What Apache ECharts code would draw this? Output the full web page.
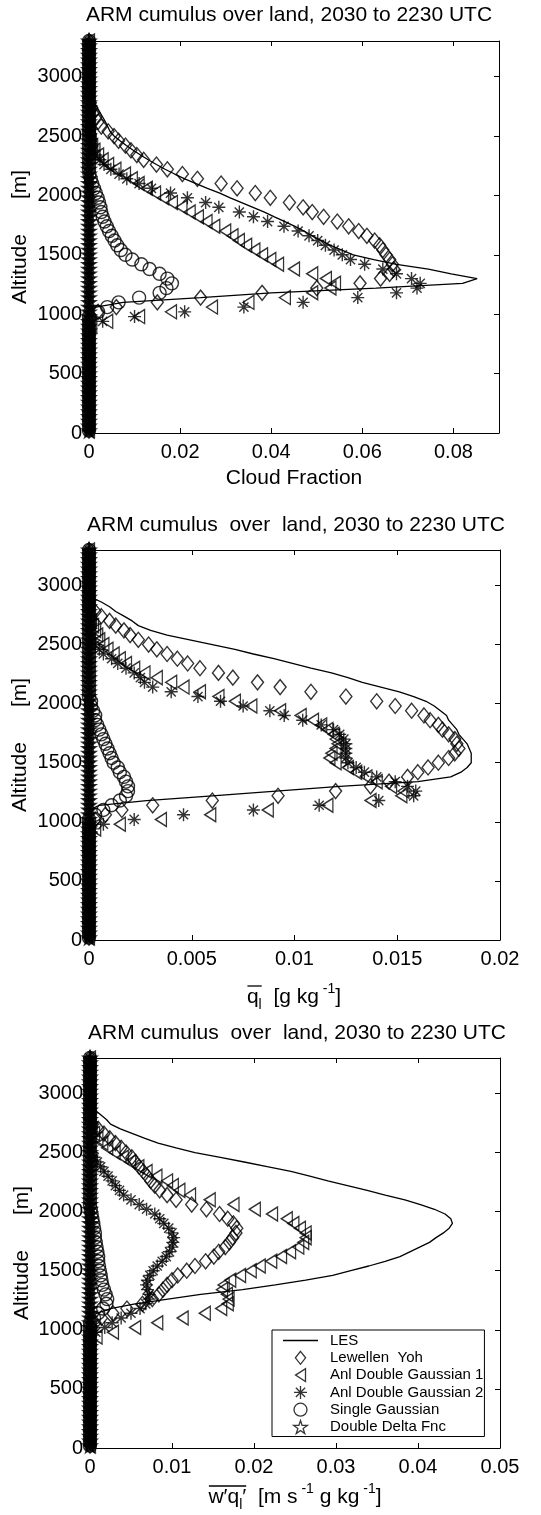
<!DOCTYPE html>
<html><head><meta charset="utf-8">
<script src="https://cdn.jsdelivr.net/npm/echarts@6/dist/echarts.min.js"></script>
<style>html,body{margin:0;padding:0;background:#fff}#c{width:541px;height:1515px}</style>
</head><body><div id="c"></div>
<script>
// ---- shared altitude levels [m] ----
const altitude = [
 20,60,100,140,180,220,260,300,340,380,
 420,460,500,540,580,620,660,700,740,780,
 820,860,900,940,980,1020,1060,1100,1140,1180,
 1220,1260,1300,1340,1380,1420,1460,1500,1540,1580,
 1620,1660,1700,1740,1780,1820,1860,1900,1940,1980,
 2020,2060,2100,2140,2180,2220,2260,2300,2340,2380,
 2420,2460,2500,2540,2580,2620,2660,2700,2740,2780,
 2820,2860,2900,2940,2980,3020,3060,3100,3140,3180,
 3220,3260,3300];

// ---- panel 1: cloud fraction ----
const cfLES = [
 0,0,0,0,0,0,0,0,0,0, 0,0,0,0,0,0,0,0,0,0,
 0,0,0,0,0,0,0.0015,0.0075,0.0245,0.040,
 0.063,0.082,0.0852,0.0795,0.0745,0.0675,0.0625,0.058,0.0555,0.053,
 0.051,0.049,0.0472,0.0452,0.043,0.0407,0.0385,0.036,0.0335,0.031,
 0.0287,0.026,0.0235,0.021,0.0188,0.0167,0.0148,0.013,0.0113,0.0097,
 0.0082,0.0068,0.0055,0.0046,0.0041,0.0036,0.003,0.0024,0.0018,0.0012,
 0.0005,0,0,0,0,0,0,0,0,0, 0,0,0];
const cfLY = [
 0,0,0,0,0,0,0,0,0,0, 0,0,0,0,0,0,0,0,0,0,
 0,0,0,0,0.0005,0.002,0.006,0.015,0.0245,0.038,
 0.05,0.0595,0.064,0.066,0.0669,0.0666,0.066,0.0652,0.0645,0.0638,
 0.0627,0.061,0.0592,0.057,0.0545,0.0515,0.049,0.047,0.044,0.0398,
 0.0365,0.0325,0.029,0.0238,0.0205,0.0172,0.0148,0.012,0.0105,0.0092,
 0.008,0.0065,0.0055,0.0042,0.0027,0.002,0.0015,0.001,0.0006,0.0003,
 0,0,0,0,0,0,0,0,0,0, 0,0,0];
const cfDG1 = [
 0,0,0,0,0,0,0,0,0,0, 0,0,0,0,0,0,0,0,0,0,
 0,0,0.0005,0.004,0.011,0.018,0.027,0.035,0.043,0.049,
 0.053,0.054,0.052,0.049,0.045,0.0415,0.0398,0.038,0.0363,0.0345,
 0.0329,0.0315,0.0299,0.0275,0.0258,0.0239,0.0221,0.0203,0.0182,0.0163,
 0.0145,0.0127,0.0109,0.0094,0.0079,0.0058,0.0042,0.003,0.002,0.0012,
 0.0007,0.0004,0.0002,0,0,0,0,0,0,0,
 0,0,0,0,0,0,0,0,0,0, 0,0,0];
const cfDG2 = [
 0,0,0,0,0,0,0,0,0,0, 0,0,0,0,0,0,0,0,0,0,
 0,0,0,0.003,0.01,0.021,0.034,0.047,0.059,0.0675,
 0.072,0.0727,0.0708,0.0675,0.0645,0.0605,0.0574,0.0556,0.0538,0.0519,
 0.0502,0.0483,0.0459,0.0428,0.0392,0.0361,0.033,0.0285,0.0256,0.0216,
 0.0179,0.0137,0.011,0.0083,0.0066,0.0048,0.0033,0.0024,0.0015,0.001,
 0.0006,0.0003,0,0,0,0,0,0,0,0,
 0,0,0,0,0,0,0,0,0,0, 0,0,0];
const cfSG = [
 0,0,0,0,0,0,0,0,0,0, 0,0,0,0,0,0,0,0,0,0,
 0,0,0,0,0,0.002,0.004,0.0065,0.011,0.0155,
 0.017,0.0182,0.0172,0.0155,0.0133,0.0115,0.0095,0.008,0.007,0.0062,
 0.0056,0.005,0.0044,0.0039,0.0034,0.003,0.0027,0.0025,0.0022,0.0019,
 0.0015,0.0011,0.0007,0.0004,0.0001,0,0,0,0,0,
 0,0,0,0,0,0,0,0,0,0,
 0,0,0,0,0,0,0,0,0,0, 0,0,0];
const cfDD = [
 0,0,0,0,0,0,0,0,0,0, 0,0,0,0,0,0,0,0,0,0,
 0,0,0,0,0,0,0,0,0,0, 0,0,0,0,0,0,0,0,0,0,
 0,0,0,0,0,0,0,0,0,0, 0,0,0,0,0,0,0,0,0,0,
 0,0,0,0,0,0,0,0,0,0, 0,0,0,0,0,0,0,0,0,0, 0,0,0];

// ---- panel 2: liquid water q_l [g/kg] ----
const qlLES = [
 0,0,0,0,0,0,0,0,0,0, 0,0,0,0,0,0,0,0,0,0,
 0,0,0,0,0,0,0,0,0.0005,0.0028,
 0.006,0.0091,0.0122,0.016,0.0176,0.0181,0.0184,0.0186,0.0186,0.0186,
 0.0185,0.0184,0.0182,0.018,0.0179,0.0177,0.0175,0.0174,0.0171,0.0168,
 0.0164,0.0158,0.0151,0.0142,0.0133,0.0126,0.0118,0.0108,0.0099,0.009,
 0.008,0.0071,0.006,0.0049,0.0038,0.003,0.0024,0.0021,0.0017,0.0013,
 0.001,0.0006,0.0001,0,0,0,0,0,0,0, 0,0,0];
const qlLY = [
 0,0,0,0,0,0,0,0,0,0, 0,0,0,0,0,0,0,0,0,0,
 0,0,0,0,0,0.0003,0.0008,0.0016,0.0031,0.006,
 0.0092,0.012,0.0137,0.0146,0.0155,0.016,0.0165,0.017,0.0175,0.0178,
 0.018,0.0179,0.0178,0.0175,0.0172,0.017,0.0166,0.0163,0.0157,0.0149,
 0.014,0.0125,0.0108,0.0093,0.0082,0.007,0.0063,0.0054,0.0048,0.0043,
 0.0038,0.0033,0.0029,0.0024,0.002,0.0017,0.0013,0.001,0.0006,0.0003,
 0,0,0,0,0,0,0,0,0,0, 0,0,0];
const qlDG1 = [
 0,0,0,0,0,0,0,0,0,0, 0,0,0,0,0,0,0,0,0,0,
 0,0,0,0.0003,0.0015,0.0035,0.0059,0.0087,0.0116,0.0137,
 0.0152,0.0153,0.0147,0.014,0.0135,0.013,0.0126,0.012,0.0117,0.0118,
 0.012,0.0121,0.012,0.0119,0.0116,0.0113,0.0109,0.0103,0.0093,0.0079,
 0.0071,0.0063,0.0054,0.0046,0.004,0.0033,0.0027,0.0022,0.0018,0.0015,
 0.0012,0.0009,0.0007,0.0005,0.0004,0.0003,0.0002,0.0001,0,0,
 0,0,0,0,0,0,0,0,0,0, 0,0,0];
const qlDG2 = [
 0,0,0,0,0,0,0,0,0,0, 0,0,0,0,0,0,0,0,0,0,
 0,0,0,0.0002,0.0007,0.0022,0.0046,0.008,0.0112,0.0141,
 0.0158,0.0159,0.0155,0.0149,0.014,0.0134,0.013,0.0126,0.0125,0.0125,
 0.0125,0.0125,0.0124,0.0122,0.0119,0.0113,0.0104,0.0095,0.0088,0.0075,
 0.0064,0.0053,0.004,0.0031,0.0027,0.0025,0.0022,0.0018,0.0014,0.0011,
 0.0007,0.0005,0.0003,0.0001,0,0,0,0,0,0,
 0,0,0,0,0,0,0,0,0,0, 0,0,0];
const qlSG = [
 0,0,0,0,0,0,0,0,0,0, 0,0,0,0,0,0,0,0,0,0,
 0,0,0,0,0,0,0.0003,0.0007,0.0011,0.0015,
 0.0018,0.0019,0.0019,0.0018,0.0017,0.0015,0.0014,0.0012,0.0011,0.001,
 0.0009,0.0008,0.0007,0.0006,0.0005,0.0004,0.0003,0.0003,0.0002,0.0001,
 0.0001,0,0,0,0,0,0,0,0,0,
 0,0,0,0,0,0,0,0,0,0,
 0,0,0,0,0,0,0,0,0,0, 0,0,0];
const qlDD = [
 0,0,0,0,0,0,0,0,0,0, 0,0,0,0,0,0,0,0,0,0,
 0,0,0,0,0,0,0,0,0,0, 0,0,0,0,0,0,0,0,0,0,
 0,0,0,0,0,0,0,0,0,0, 0,0,0,0,0,0,0,0,0,0,
 0,0,0,0,0,0,0,0,0,0, 0,0,0,0,0,0,0,0,0,0, 0,0,0];

// ---- panel 3: liquid water flux w'q_l' ----
const wqLES = [
 0,0,0,0,0,0,0,0,0,0, 0,0,0,0,0,0,0,0,0,0,
 0,0,0,0,0,0,0,0.0002,0.0008,0.0025,
 0.0055,0.0095,0.0135,0.0186,0.0226,0.0263,0.0296,0.0318,0.034,0.036,
 0.0378,0.039,0.0402,0.0414,0.0422,0.0431,0.0438,0.0442,0.044,0.0433,
 0.042,0.0403,0.0384,0.036,0.0338,0.0314,0.029,0.0268,0.0245,0.0216,
 0.0188,0.0159,0.0128,0.0105,0.0083,0.0067,0.0052,0.0037,0.0025,0.002,
 0.0013,0.0006,0,0,0,0,0,0,0,0, 0,0,0];
const wqLY = [
 0,0,0,0,0,0,0,0,0,0, 0,0,0,0,0,0,0,0,0,0,
 0,0,0,0,0,0.0002,0.0006,0.0014,0.0028,0.0045,
 0.0064,0.0076,0.0084,0.0089,0.0094,0.01,0.0107,0.0118,0.0128,0.0141,
 0.0151,0.0157,0.0165,0.017,0.0174,0.0178,0.0179,0.0175,0.0168,0.0158,
 0.0142,0.0124,0.0105,0.0094,0.0085,0.0079,0.0074,0.007,0.0065,0.006,
 0.0055,0.0051,0.0044,0.0038,0.0031,0.0024,0.0017,0.001,0.0003,0,
 0,0,0,0,0,0,0,0,0,0, 0,0,0];
const wqDG1 = [
 0,0,0,0,0,0,0,0,0,0, 0,0,0,0,0,0,0,0,0,0,
 0,0,0,0.0008,0.0028,0.0055,0.0082,0.0113,0.014,0.016,
 0.0168,0.0169,0.0167,0.0161,0.0163,0.0171,0.0183,0.0196,0.0207,0.0221,
 0.0233,0.0244,0.0254,0.026,0.0263,0.0263,0.0256,0.0248,0.024,0.0222,
 0.0201,0.0175,0.0146,0.0122,0.0109,0.0101,0.0094,0.0081,0.0069,0.0059,
 0.0049,0.004,0.003,0.0021,0.0015,0.0009,0.0005,0.0002,0,0,
 0,0,0,0,0,0,0,0,0,0, 0,0,0];
const wqDG2 = [
 0,0,0,0,0,0,0,0,0,0, 0,0,0,0,0,0,0,0,0,0,
 0,0,0,0,0.0007,0.0018,0.0027,0.0038,0.005,0.0061,
 0.0068,0.0072,0.0072,0.007,0.0069,0.007,0.0073,0.0077,0.0082,0.0088,
 0.0093,0.0097,0.01,0.0101,0.0102,0.01,0.0096,0.009,0.0085,0.0079,
 0.0069,0.006,0.005,0.0041,0.0036,0.0031,0.0027,0.0022,0.0017,0.0013,
 0.0009,0.0005,0.0002,0,0,0,0,0,0,0,
 0,0,0,0,0,0,0,0,0,0, 0,0,0];
const wqSG = [
 0,0,0,0,0,0,0,0,0,0, 0,0,0,0,0,0,0,0,0,0,
 0,0,0,0,0,0,0,0.0005,0.001,0.0016,
 0.002,0.0021,0.0019,0.0017,0.0015,0.0014,0.0013,0.0012,0.0011,0.001,
 0.001,0.0009,0.0008,0.0007,0.0006,0.0006,0.0005,0.0004,0.0003,0.0002,
 0.0001,0,0,0,0,0,0,0,0,0,
 0,0,0,0,0,0,0,0,0,0,
 0,0,0,0,0,0,0,0,0,0, 0,0,0];
const wqDD = [
 0,0,0,0,0,0,0,0,0,0, 0,0,0,0,0,0,0,0,0,0,
 0,0,0,0,0,0,0,0,0,0, 0,0,0,0,0,0,0,0,0,0,
 0,0,0,0,0,0,0,0,0,0, 0,0,0,0,0,0,0,0,0,0,
 0,0,0,0,0,0,0,0,0,0, 0,0,0,0,0,0,0,0,0,0, 0,0,0];

// ---- axis ticks ----
const yTickInterval = 500, yMax = 3300;
const xMax = [0.09, 0.02, 0.05];
const xInterval = [0.02, 0.005, 0.01];

const seriesNames = ['LES','Lewellen  Yoh','Anl Double Gaussian 1','Anl Double Gaussian 2','Single Gaussian','Double Delta Fnc'];
const titles = ['ARM cumulus over land, 2030 to 2230 UTC','ARM cumulus  over  land, 2030 to 2230 UTC','ARM cumulus  over  land, 2030 to 2230 UTC'];

const panels = [
  [cfLES, cfLY, cfDG1, cfDG2, cfSG, cfDD],
  [qlLES, qlLY, qlDG1, qlDG2, qlSG, qlDD],
  [wqLES, wqLY, wqDG1, wqDG2, wqSG, wqDD]
];

// ---- layout ----
const FONT = 'Liberation Sans';
const grids = [
  {left: 89, top: 41, width: 410, height: 392},
  {left: 89, top: 550, width: 411, height: 390},
  {left: 90, top: 1058, width: 410, height: 390}
];

const DIAM = 'path://M0,-7L5.5,0L0,7L-5.5,0Z';
const TRI = 'path://M-5,0L5,-6.5L5,6.5Z';
const AST = 'path://M0,-10L0,10M-10,0L10,0M-7.07,-7.07L7.07,7.07M-7.07,7.07L7.07,-7.07';
const STAR = 'path://M0,-10L2.245,-3.09L9.51,-3.09L3.633,1.18L5.88,8.09L0,3.82L-5.88,8.09L-3.633,1.18L-9.51,-3.09L-2.245,-3.09Z';
const LINEICON = 'path://M0,0L35,0L35,1.3L0,1.3Z';
const hollow = {color: 'rgba(0,0,0,0)', borderColor: '#000', borderWidth: 1.4};
const markers = [
  null,
  {symbol: DIAM, symbolSize: [12, 15], itemStyle: hollow},
  {symbol: TRI, symbolSize: [11, 14], itemStyle: hollow},
  {symbol: AST, symbolSize: 13, itemStyle: hollow},
  {symbol: 'circle', symbolSize: 13, itemStyle: hollow},
  {symbol: STAR, symbolSize: 13, itemStyle: {color: '#000', borderColor: '#000', borderWidth: 1.8}}
];

function pts(vals) { return vals.map((v, i) => [v, altitude[i]]); }

const xAxis = [], yAxis = [], series = [];
grids.forEach((g, k) => {
  const lineSt = {onZero: false, lineStyle: {color: '#000', width: 1}};
  const tick = {inside: true, length: 5, lineStyle: {color: '#000', width: 1}};
  const lab = {color: '#000', fontSize: 20, fontFamily: FONT, formatter: v => String(v)};
  xAxis.push({type: 'value', gridIndex: k, position: 'bottom', min: 0, max: xMax[k], interval: xInterval[k],
    axisLine: lineSt, axisTick: tick, splitLine: {show: false},
    axisLabel: Object.assign({margin: 9, showMaxLabel: k !== 0}, lab)});
  xAxis.push({type: 'value', gridIndex: k, position: 'top', min: 0, max: xMax[k], interval: xInterval[k],
    axisLine: lineSt, axisTick: tick, splitLine: {show: false}, axisLabel: {show: false}});
  yAxis.push({type: 'value', gridIndex: k, position: 'left', min: 0, max: yMax, interval: yTickInterval,
    axisLine: lineSt, axisTick: tick, splitLine: {show: false},
    axisLabel: Object.assign({margin: 7, showMaxLabel: false}, lab)});
  yAxis.push({type: 'value', gridIndex: k, position: 'right', min: 0, max: yMax, interval: yTickInterval,
    axisLine: lineSt, axisTick: tick, splitLine: {show: false}, axisLabel: {show: false}});
  panels[k].forEach((vals, j) => {
    if (j === 0) {
      series.push({name: seriesNames[j], type: 'line', xAxisIndex: 2 * k, yAxisIndex: 2 * k,
        data: pts(vals), symbol: 'none', showSymbol: false, lineStyle: {color: '#000', width: 1.3},
        itemStyle: {color: '#000'}, z: 3, silent: true});
    } else {
      series.push(Object.assign({name: seriesNames[j], type: 'scatter', xAxisIndex: 2 * k, yAxisIndex: 2 * k,
        data: pts(vals), z: 2, silent: true}, markers[j]));
    }
  });
});

// ---- text measuring for overlines ----
const mctx = document.createElement('canvas').getContext('2d');
function tw(s, px) { mctx.font = px + 'px "' + FONT + '"'; return mctx.measureText(s).width; }
const SZ = {t: 21, sub: 14, sup: 14};
const rich = {
  t: {fontSize: 21, fontFamily: FONT, lineHeight: 30, fill: '#000', color: '#000'},
  sub: {fontSize: 14, fontFamily: FONT, lineHeight: 15, verticalAlign: 'bottom', fill: '#000', color: '#000'},
  sup: {fontSize: 14, fontFamily: FONT, lineHeight: 15, verticalAlign: 'top', fill: '#000', color: '#000'}
};
function richLabel(parts, cx, cy, overCount) {
  const text = parts.map(p => '{' + p[0] + '|' + p[1] + '}').join('');
  const W = parts.reduce((s, p) => s + tw(p[1], SZ[p[0]]), 0);
  const x0 = cx - W / 2;
  let wo = 0;
  for (let i = 0; i < overCount; i++) wo += tw(parts[i][1], SZ[parts[i][0]]);
  return [
    {type: 'text', x: cx, y: cy, z: 100, style: {text: text, rich: rich, align: 'center', verticalAlign: 'middle',
      textAlign: 'center', textVerticalAlign: 'middle', fill: '#000'}},
    {type: 'line', z: 100, shape: {x1: x0 + 0.5, y1: cy - 11, x2: x0 + wo, y2: cy - 11},
      style: {stroke: '#000', lineWidth: 1.3}}
  ];
}
function plainText(txt, x, y, size, rot) {
  return {type: 'text', x: x, y: y, rotation: rot || 0, z: 100,
    style: {text: txt, fontSize: size, fontFamily: FONT, fill: '#000', align: 'center', verticalAlign: 'middle',
      textAlign: 'center', textVerticalAlign: 'middle'}};
}

const titlePos = [[289, 15], [296, 525], [297, 1033]];
const ynamePos = [[20, 237], [20, 745], [22, 1253]];
const graphic = [];
titles.forEach((t, k) => graphic.push(plainText(t, titlePos[k][0], titlePos[k][1], 21)));
ynamePos.forEach(p => graphic.push(plainText('Altitude      [m]', p[0], p[1], 21, Math.PI / 2)));
graphic.push(plainText('Cloud Fraction', 294, 478, 21));
richLabel([['t', 'q'], ['sub', 'l'], ['t', '  [g kg'], ['sup', ' -1'], ['t', ']']], 294, 997, 2)
  .forEach(e => graphic.push(e));
richLabel([['t', 'w\u2032q'], ['sub', 'l'], ['t', '\u2032'], ['t', '  [m s'], ['sup', ' -1'], ['t', ' g kg'], ['sup', ' -1'], ['t', ']']], 295, 1497, 3)
  .forEach(e => graphic.push(e));

const legendIcons = [LINEICON, DIAM, TRI, AST, 'circle', STAR];
const legendData = seriesNames.map((n, j) => ({
  name: n, icon: legendIcons[j],
  itemStyle: j === 0 ? {color: '#000', borderWidth: 0} : {color: 'rgba(0,0,0,0)', borderColor: '#000', borderWidth: 1.3}
}));

const chart = echarts.init(document.getElementById('c'), null, {renderer: 'canvas'});
chart.setOption({
  animation: false,
  backgroundColor: '#fff',
  grid: grids.map(g => Object.assign({containLabel: false}, g)),
  xAxis: xAxis,
  yAxis: yAxis,
  legend: {
    data: legendData, orient: 'vertical', left: 272, top: 1330,
    itemWidth: 35, itemHeight: 13, itemGap: 2.3, selectedMode: false, symbolKeepAspect: true,
    padding: [3, 1, 2, 11], borderColor: '#000', borderWidth: 1, backgroundColor: '#fff',
    textStyle: {fontSize: 15, fontFamily: FONT, color: '#000', lineHeight: 15, padding: [0, 0, 0, 7]},
    z: 10
  },
  graphic: graphic,
  series: series
});
</script>
</body></html>
